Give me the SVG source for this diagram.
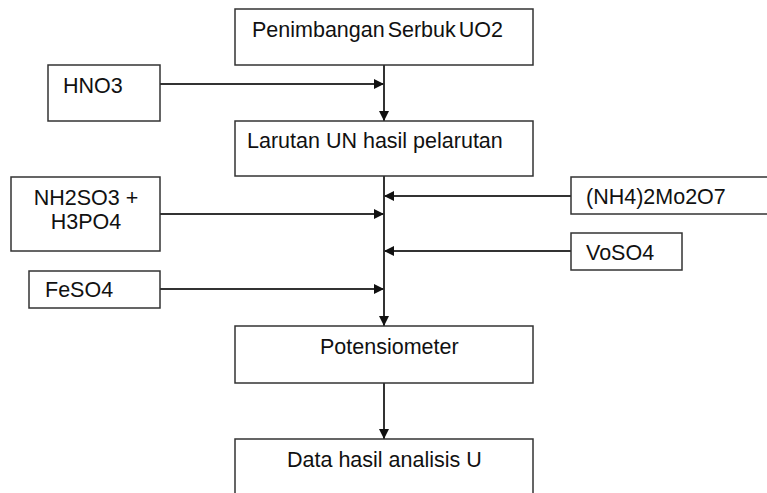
<svg xmlns="http://www.w3.org/2000/svg" width="767" height="493" viewBox="0 0 767 493">
<style>
.box{fill:#fff;stroke:#333;stroke-width:1.5}
.t{font-family:"Liberation Sans",Arial,sans-serif;font-size:21.5px;fill:#111}
.c{fill:none;stroke:#333;stroke-width:2}
</style>
<defs>
<marker id="ah" markerWidth="10" markerHeight="10" refX="10" refY="5" orient="auto" markerUnits="userSpaceOnUse">
<path d="M0,0 L10,5 L0,10 Z" fill="#111"/>
</marker>
</defs>
<rect width="767" height="493" fill="#fff"/>
<g id="connectors">
<line class="c" x1="384" y1="65" x2="384" y2="121" marker-end="url(#ah)"/>
<line class="c" x1="160" y1="84" x2="384" y2="84" marker-end="url(#ah)"/>
<line class="c" x1="384" y1="176" x2="384" y2="326" marker-end="url(#ah)"/>
<line class="c" x1="160" y1="214" x2="384" y2="214" marker-end="url(#ah)"/>
<line class="c" x1="160" y1="289" x2="384" y2="289" marker-end="url(#ah)"/>
<line class="c" x1="571" y1="196" x2="384" y2="196" marker-end="url(#ah)"/>
<line class="c" x1="571" y1="251" x2="384" y2="251" marker-end="url(#ah)"/>
<line class="c" x1="384" y1="383" x2="384" y2="439" marker-end="url(#ah)"/>
</g>
<g id="n1"><rect class="box" x="235" y="9" width="298" height="56"/><text class="t" x="252" y="37" word-spacing="-3">Penimbangan Serbuk UO2</text></g>
<g id="n2"><rect class="box" x="48" y="65" width="112" height="56"/><text class="t" x="63" y="93">HNO3</text></g>
<g id="n3"><rect class="box" x="235" y="121" width="298" height="55"/><text class="t" x="247" y="148">Larutan UN hasil pelarutan</text></g>
<g id="n4"><rect class="box" x="11" y="177" width="149" height="74"/><text class="t" x="86" y="205" text-anchor="middle">NH2SO3 +</text><text class="t" x="86" y="229" text-anchor="middle">H3PO4</text></g>
<g id="n5"><rect class="box" x="571" y="177" width="200" height="37"/><text class="t" x="586" y="204">(NH4)2Mo2O7</text></g>
<g id="n6"><rect class="box" x="571" y="233" width="111" height="37"/><text class="t" x="586" y="260">VoSO4</text></g>
<g id="n7"><rect class="box" x="29" y="271" width="131" height="37"/><text class="t" x="45" y="297">FeSO4</text></g>
<g id="n8"><rect class="box" x="235" y="326" width="298" height="57"/><text class="t" x="320" y="354">Potensiometer</text></g>
<g id="n9"><rect class="box" x="235" y="439" width="298" height="60"/><text class="t" x="287" y="467">Data hasil analisis U</text></g>
</svg>
